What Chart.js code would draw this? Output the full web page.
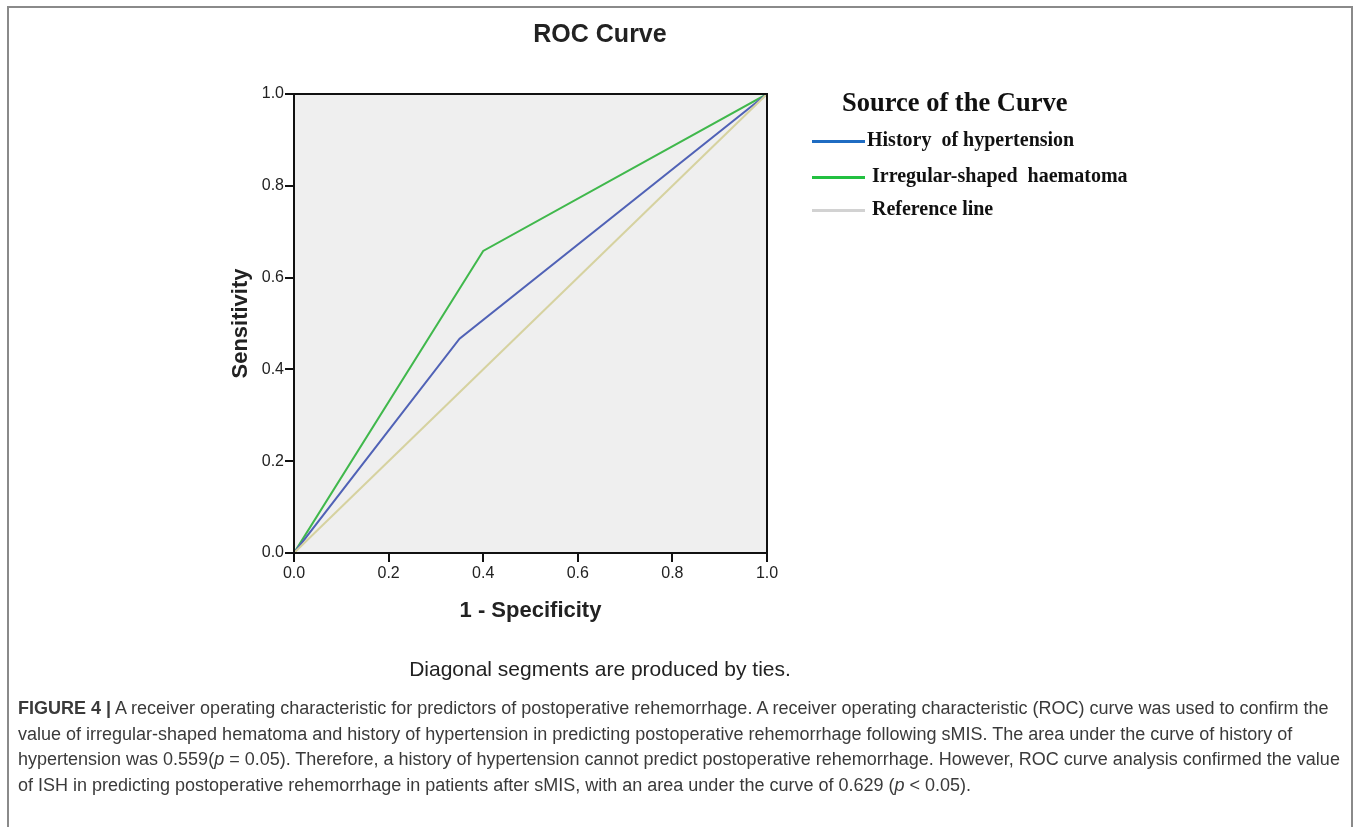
<!DOCTYPE html>
<html>
<head>
<meta charset="utf-8">
<script src="https://cdn.jsdelivr.net/npm/chart.js@4.4.1/dist/chart.umd.min.js"></script>
<style>
  html, body { margin: 0; padding: 0; background: #fff; }
  body { width: 1357px; height: 827px; position: relative; overflow: hidden; }
  #frame { position: absolute; left: 7px; top: 6px; width: 1346px; height: 900px;
           border: 2px solid #8a8a8a; border-bottom: none; box-sizing: border-box; }
  #wrap { position: absolute; left: 200px; top: 0; width: 800px; height: 700px; }
  #legend { position: absolute; left: 812px; top: 88px; font-family: "Liberation Serif", serif;
            font-weight: bold; color: #111; }
  #legend .head { position: absolute; left: 30px; top: -1px; font-size: 26.5px; white-space: nowrap; }
  #legend .item { position: absolute; left: 0; font-size: 20px; white-space: nowrap; }
  #legend .swatch { display: inline-block; width: 53px; height: 3px; vertical-align: middle; margin-right: 2px; }
  #caption { position: absolute; left: 18px; top: 696px; width: 1335px; font-family: "Liberation Sans", Arial, sans-serif;
             font-size: 18px; line-height: 25.6px; color: #3a3a3a; white-space: nowrap; }
</style>
</head>
<body>
<div id="frame"></div>
<div id="wrap"><canvas id="rocChart" width="800" height="700"></canvas></div>
<div id="legend">
  <div class="head">Source of the Curve</div>
  <div class="item" style="top:40px"><span class="swatch" style="background:#1f6cc2"></span>History&nbsp; of hypertension</div>
  <div class="item" style="top:76px"><span class="swatch" style="background:#22c040"></span>&nbsp;Irregular-shaped&nbsp; haematoma</div>
  <div class="item" style="top:109px"><span class="swatch" style="background:#d2d2d2"></span>&nbsp;Reference line</div>
</div>
<div id="caption">
<b>FIGURE 4 |</b> A receiver operating characteristic for predictors of postoperative rehemorrhage. A receiver operating characteristic (ROC) curve was used to confirm the<br>
value of irregular-shaped hematoma and history of hypertension in predicting postoperative rehemorrhage following sMIS. The area under the curve of history of<br>
hypertension was 0.559(<i>p</i> = 0.05). Therefore, a history of hypertension cannot predict postoperative rehemorrhage. However, ROC curve analysis confirmed the value<br>
of ISH in predicting postoperative rehemorrhage in patients after sMIS, with an area under the curve of 0.629 (<i>p</i> &lt; 0.05).
</div>
<script>
// ROC points: [1 - specificity, sensitivity]
const htnX = [0, 0.35, 1];
const htnY = [0, 0.467, 1];
const ishX = [0, 0.40, 1];
const ishY = [0, 0.658, 1];
const refX = [0, 1];
const refY = [0, 1];

const seriesLabels = ['History of hypertension', 'Irregular-shaped haematoma', 'Reference line'];
const seriesColors = ['rgb(80,98,182)', 'rgb(64,184,76)', 'rgb(214,210,160)'];

const tickFont = { family: 'Liberation Sans', size: 16 };

function toPoints(xs, ys) {
  return xs.map((x, i) => ({ x, y: ys[i] }));
}

// gray plot background + black frame round the chart area
const rocFrame = {
  id: 'rocFrame',
  beforeDatasetsDraw(chart) {
    const { ctx, chartArea: a } = chart;
    ctx.save();
    ctx.globalCompositeOperation = 'destination-over';
    ctx.fillStyle = '#efefef';
    ctx.fillRect(a.left, a.top, a.right - a.left, a.bottom - a.top);
    ctx.restore();
  },
  afterDatasetsDraw(chart) {
    const { ctx, chartArea: a } = chart;
    ctx.save();
    ctx.strokeStyle = '#111';
    ctx.lineWidth = 2;
    ctx.strokeRect(a.left, a.top, a.right - a.left, a.bottom - a.top);
    ctx.restore();
  }
};

const datasets = [
  toPoints(refX, refY),
  toPoints(htnX, htnY),
  toPoints(ishX, ishY)
].map((pts, i) => {
  const si = [2, 0, 1][i];
  return { label: seriesLabels[si], data: pts, borderColor: seriesColors[si], borderWidth: 2,
           fill: false, pointRadius: 0, tension: 0 };
});

new Chart(document.getElementById('rocChart').getContext('2d'), {
  type: 'line',
  data: { datasets },
  plugins: [rocFrame],
  options: {
    responsive: false,
    animation: false,
    layout: { padding: 0 },
    plugins: {
      legend: { display: false },
      tooltip: { enabled: false },
      title: {
        display: true, text: 'ROC Curve', color: '#222',
        font: { family: 'Liberation Sans', size: 25, weight: 'bold' },
        padding: { top: 20, bottom: 44 }
      },
      subtitle: {
        display: true, position: 'bottom', text: 'Diagonal segments are produced by ties.', color: '#222',
        font: { family: 'Liberation Sans', size: 21, weight: 'normal' },
        padding: { top: 24.4, bottom: 17.4 }
      }
    },
    scales: {
      x: {
        type: 'linear', min: 0, max: 1,
        afterFit(s) { s.height = 80; },
        border: { display: true, color: '#111', width: 2 },
        grid: { display: true, drawOnChartArea: false, drawTicks: true, tickLength: 9, color: '#111', lineWidth: 2 },
        ticks: { stepSize: 0.2, padding: 2, color: '#222', font: tickFont, maxRotation: 0,
                 callback: v => v.toFixed(1) },
        title: { display: true, text: '1 - Specificity', color: '#222',
                 font: { family: 'Liberation Sans', size: 22, weight: 'bold' }, padding: { top: 0, bottom: 8.8 } }
      },
      y: {
        type: 'linear', min: 0, max: 1,
        afterFit(s) { s.width = 94; },
        border: { display: true, color: '#111', width: 2 },
        grid: { display: true, drawOnChartArea: false, drawTicks: true, tickLength: 9, color: '#111', lineWidth: 2 },
        ticks: { stepSize: 0.2, padding: 1, color: '#222', font: tickFont,
                 callback: v => v.toFixed(1) },
        title: { display: true, text: 'Sensitivity', color: '#222',
                 font: { family: 'Liberation Sans', size: 22, weight: 'bold' }, padding: { top: 27.8, bottom: 0 } }
      },
      // empty right-hand box, keeps the plot left of the legend
      yRight: {
        type: 'linear', position: 'right', min: 0, max: 1,
        afterFit(s) { s.width = 233; },
        border: { display: false },
        grid: { display: false },
        ticks: { display: false }
      }
    }
  }
});
</script>
</body>
</html>
